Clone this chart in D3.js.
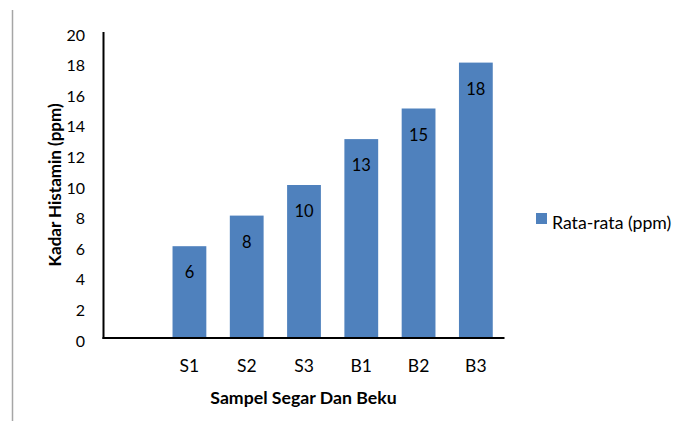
<!DOCTYPE html>
<html>
<head>
<meta charset="utf-8">
<script src="https://cdn.jsdelivr.net/npm/d3@7"></script>
<style>
  html, body { margin: 0; padding: 0; background: #fff; }
  svg { display: block; font-family: Lato, "Open Sans", sans-serif; }
</style>
</head>
<body>
<svg id="chart" width="684" height="421"></svg>
<script>
const categories = ["", "S1", "S2", "S3", "B1", "B2", "B3"];
const values = [null, 6.0, 8.0, 10.0, 13.0, 15.0, 18.0];
const valueLabels = ["", "6", "8", "10", "13", "15", "18"];
const yTicks = [0, 2, 4, 6, 8, 10, 12, 14, 16, 18, 20];
const seriesName = "Rata-rata (ppm)";
const xTitle = "Sampel Segar Dan Beku";
const yTitle = "Kadar Histamin (ppm)";

const data = categories.map((c, i) => ({ cat: c, key: "k" + i, value: values[i], label: valueLabels[i] }));

const svg = d3.select("#chart");
const barColor = "#4F81BD";

// left frame line
svg.append("line")
  .attr("x1", 12.5).attr("x2", 12.5)
  .attr("y1", 10).attr("y2", 421)
  .attr("stroke", "#a6a6a6").attr("stroke-width", 1.5);

const x = d3.scaleBand()
  .domain(data.map(d => d.key))
  .range([103.5, 504.5])
  .paddingInner(0.41)
  .paddingOuter(0.205);

const y = d3.scaleLinear().domain([0, 20]).range([338, 32]);

// bars
svg.append("g").selectAll("rect")
  .data(data.filter(d => d.value != null))
  .join("rect")
  .attr("x", d => x(d.key))
  .attr("width", x.bandwidth())
  .attr("y", d => y(d.value))
  .attr("height", d => y(0) - y(d.value))
  .attr("fill", barColor);

// data labels
svg.append("g").selectAll("text")
  .data(data.filter(d => d.value != null))
  .join("text")
  .attr("x", d => x(d.key) + x.bandwidth() / 2)
  .attr("y", d => y(d.value) + 26)
  .attr("text-anchor", "middle")
  .attr("dominant-baseline", "central")
  .attr("font-size", 16.5)
  .attr("fill", "#000")
  .text(d => d.label);

// y axis
const yAxis = d3.axisLeft(y).tickValues(yTicks).tickSize(0).tickPadding(18.5).tickFormat(d3.format("d"));
const gy = svg.append("g").attr("transform", "translate(103.5,0)").call(yAxis);
gy.select(".domain").remove();
gy.selectAll("text").attr("font-size", 16).attr("font-family", "Lato, sans-serif").attr("fill", "#000")
  .attr("dy", "0.32em").attr("transform", "translate(0,3)");
svg.append("line").attr("x1", 103.5).attr("x2", 103.5).attr("y1", 32).attr("y2", 339)
  .attr("stroke", "#000").attr("stroke-width", 2);

// x axis
const xAxis = d3.axisBottom(x).tickSize(0).tickPadding(22)
  .tickFormat(k => data.find(d => d.key === k).cat);
const gx = svg.append("g").attr("transform", "translate(0,338)").call(xAxis);
gx.select(".domain").remove();
gx.selectAll("text").attr("font-size", 17.5).attr("font-family", "Lato, sans-serif").attr("fill", "#000");
svg.append("line").attr("x1", 102.5).attr("x2", 504.5).attr("y1", 338).attr("y2", 338)
  .attr("stroke", "#000").attr("stroke-width", 2);

// axis titles
svg.append("text")
  .attr("x", 303.5).attr("y", 397)
  .attr("text-anchor", "middle").attr("dominant-baseline", "central")
  .attr("font-size", 17.7).attr("font-weight", "bold")
  .text(xTitle);

svg.append("text")
  .attr("transform", "translate(54,185) rotate(-90)")
  .attr("text-anchor", "middle").attr("dominant-baseline", "central")
  .attr("font-size", 17).attr("font-weight", "bold")
  .text(yTitle);

// legend
const lg = svg.append("g").attr("transform", "translate(536,213)");
lg.append("rect").attr("width", 11).attr("height", 11).attr("fill", barColor);
lg.append("text").attr("x", 16).attr("y", 9)
  .attr("dominant-baseline", "central").attr("font-size", 17.7).text(seriesName);
</script>
</body>
</html>
